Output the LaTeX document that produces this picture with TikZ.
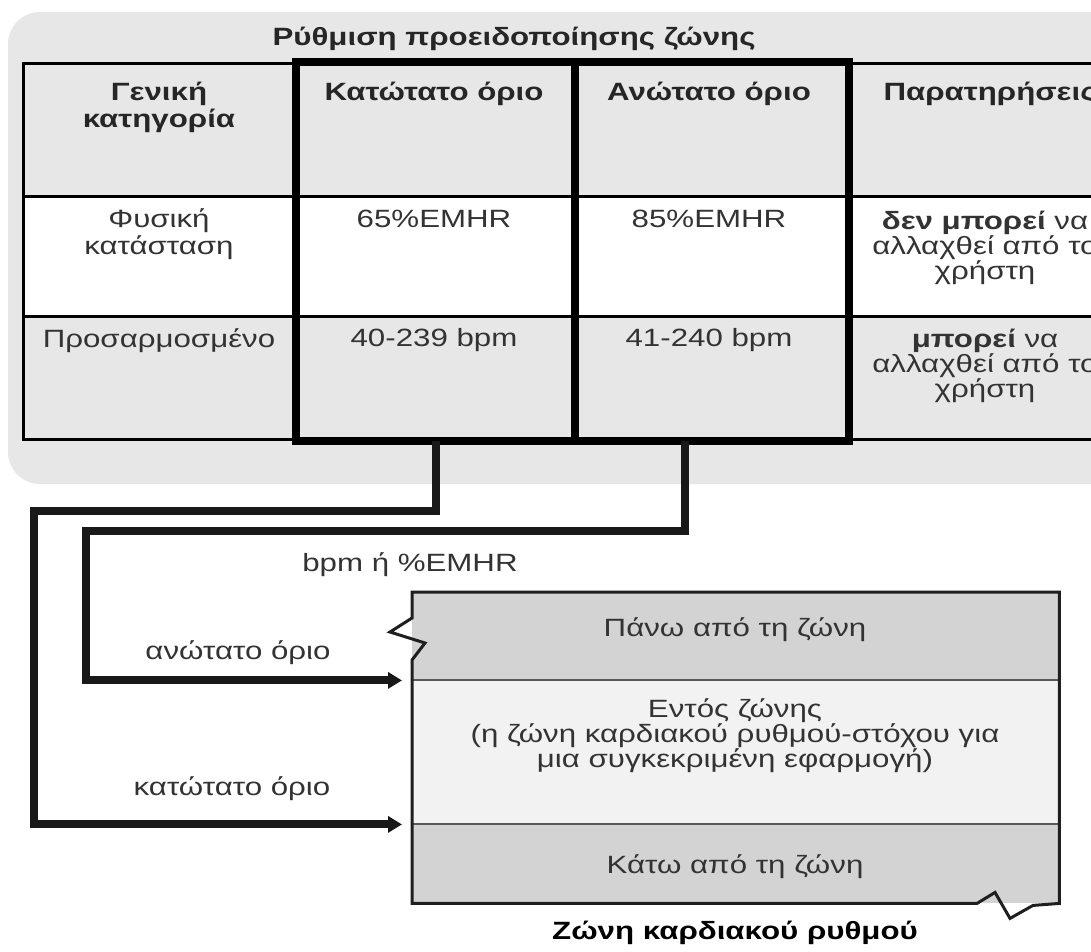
\documentclass[tikz,border=0pt]{standalone}
\usepackage{fontspec}
\setmainfont{Liberation Sans}[FakeStretch=1.25]
\usetikzlibrary{arrows.meta,calc}
\definecolor{panelgray}{HTML}{E7E7E7}
\definecolor{zonegray}{HTML}{D3D3D3}
\definecolor{zonelight}{HTML}{F2F2F2}
\definecolor{ink}{HTML}{333333}
\definecolor{headink}{HTML}{262626}
\begin{document}
\begin{tikzpicture}[x=1pt,y=-1pt,
  body/.style={font=\fontsize{25}{27}\selectfont, text=ink, align=center, inner sep=0pt},
  head/.style={body, font=\fontsize{25}{27}\selectfont\bfseries, text=headink},
  cell/.style={draw=black, line width=3pt, anchor=north west, inner sep=0pt},
  frame/.style={draw=black, line width=8.5pt},
  conn/.style={draw=black!90, line width=8pt, -{Triangle[length=14pt,width=16pt]}},
  band/.style={anchor=north west, inner sep=0pt, minimum width=647pt},
  divider/.style={draw=black!65, line width=2pt},
  edge/.style={draw=black!88, line width=3pt, line join=miter},
]
\useasboundingbox (0,0) rectangle (1091,951);
\clip (0,0) rectangle (1091,951);

% background panel behind the table
\fill[panelgray, rounded corners=32pt] (8,12) rectangle (1160,484);
\node[head, anchor=base] (title) at (514,45) {Ρύθμιση προειδοποίησης ζώνης};

% table cells
\node[cell, fill=panelgray, minimum width=274pt, minimum height=133pt] (c11) at (22,62) {};
\node[cell, fill=panelgray, minimum width=276pt, minimum height=133pt] (c12) at (296,62) {};
\node[cell, fill=panelgray, minimum width=274pt, minimum height=133pt] (c13) at (572,62) {};
\node[cell, fill=panelgray, minimum width=278pt, minimum height=133pt] (c14) at (846,62) {};
\node[cell, fill=white, minimum width=274pt, minimum height=120pt] (c21) at (22,195) {};
\node[cell, fill=white, minimum width=276pt, minimum height=120pt] (c22) at (296,195) {};
\node[cell, fill=white, minimum width=274pt, minimum height=120pt] (c23) at (572,195) {};
\node[cell, fill=white, minimum width=278pt, minimum height=120pt] (c24) at (846,195) {};
\node[cell, fill=panelgray, minimum width=274pt, minimum height=123pt] (c31) at (22,315) {};
\node[cell, fill=panelgray, minimum width=276pt, minimum height=123pt] (c32) at (296,315) {};
\node[cell, fill=panelgray, minimum width=274pt, minimum height=123pt] (c33) at (572,315) {};
\node[cell, fill=panelgray, minimum width=278pt, minimum height=123pt] (c34) at (846,315) {};

% heavy frame around the two limit columns
\draw[frame] (c12.north west) rectangle (c33.south east);
\draw[frame] (c12.north east) -- (c32.south east);

% header row
\node[head, anchor=north] (h1) at (159,82) {Γενική\\κατηγορία};
\node[head, anchor=north] (h2) at (434,82) {Κατώτατο όριο};
\node[head, anchor=north] (h3) at (709,82) {Ανώτατο όριο};
\node[head, anchor=north] (h4) at (990,82) {Παρατηρήσεις};

% fixed row
\node[body, anchor=north] (r11) at (159,208) {Φυσική\\κατάσταση};
\node[body, anchor=north] (r12) at (434,210) {65\%EMHR};
\node[body, anchor=north] (r13) at (709,210) {85\%EMHR};
\node[body, anchor=north, font=\fontsize{25}{25}\selectfont] (r14) at (985,211) {\textbf{δεν μπορεί} να\\αλλαχθεί από το\\χρήστη};

% custom row
\node[body, anchor=north] (r21) at (159,328) {Προσαρμοσμένο};
\node[body, anchor=north] (r22) at (434,328) {40-239 bpm};
\node[body, anchor=north] (r23) at (709,328) {41-240 bpm};
\node[body, anchor=north, font=\fontsize{25}{25}\selectfont] (r24) at (985,329) {\textbf{μπορεί} να\\αλλαχθεί από το\\χρήστη};

% heart-rate zone bar
\node[band, fill=zonegray, minimum height=88pt] (ztop) at (412,592) {};
\node[band, fill=zonelight, minimum height=144pt] (zmid) at (412,680) {};
\node[band, fill=zonegray, minimum height=79pt] (zbot) at (412,824) {};
\draw[divider] (ztop.south west) -- (ztop.south east);
\draw[divider] (zmid.south west) -- (zmid.south east);
\draw[edge] (ztop.north east) -- (ztop.north west) -- ++(0,26) -- ++(-22,14)
  -- ++(35,11) -- ++(-13,17) -- (zbot.south west) -- ++(565,0) -- ++(18,-11)
  -- ++(15,26) -- ++(23,-13) -- (zbot.south east) -- cycle;

\node[body, anchor=base] (ztxt1) at (735,636) {Πάνω από τη ζώνη};
\node[body, anchor=north, font=\fontsize{25}{25}\selectfont] (ztxt2) at (735,698) {Εντός ζώνης\\(η ζώνη καρδιακού ρυθμού-στόχου για\\μια συγκεκριμένη εφαρμογή)};
\node[body, anchor=base] (ztxt3) at (735,873) {Κάτω από τη ζώνη};
\node[head, anchor=base, text=black] (zcap) at (735,939) {Ζώνη καρδιακού ρυθμού};

% limit connectors
\coordinate (tipHigh) at ($(ztop.south west)+(-10,0)$);
\coordinate (tipLow) at ($(zmid.south west)+(-10,0)$);
\draw[conn] (c32.south) -- ++(0,70) -- ++(-402,0) |- (tipLow);
\draw[conn] ($(c33.south)+(-26,0)$) -- ++(0,90) -- ++(-599,0) |- (tipHigh);

\node[body, anchor=base] (unit) at (410,571) {bpm ή \%EMHR};
\node[body, anchor=base] (lhigh) at (238,659) {ανώτατο όριο};
\node[body, anchor=base] (llow) at (232,795) {κατώτατο όριο};
\end{tikzpicture}
\end{document}
